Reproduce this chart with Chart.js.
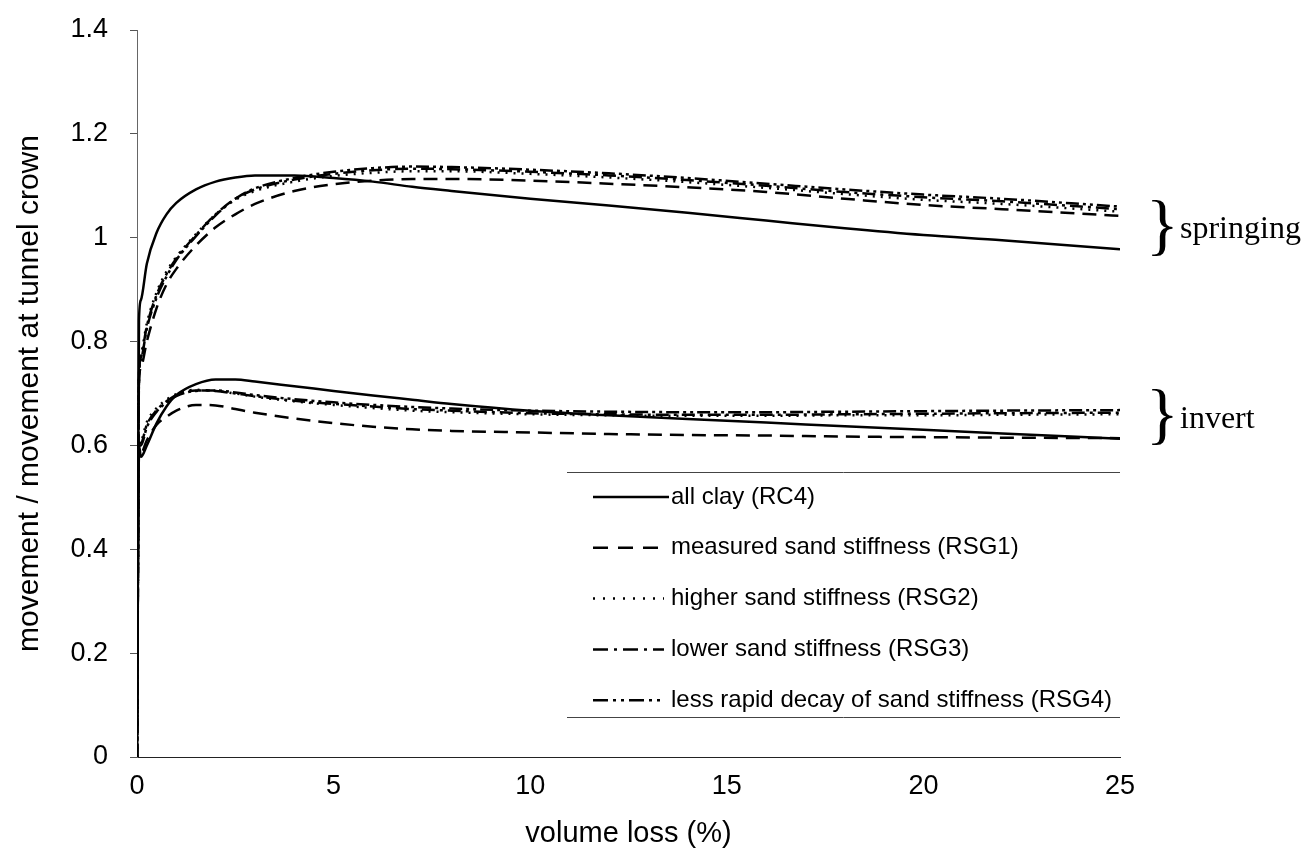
<!DOCTYPE html>
<html>
<head>
<meta charset="utf-8">
<script src="https://cdn.jsdelivr.net/npm/chart.js@4"></script>
<style>
  html, body { margin: 0; padding: 0; background: #fff; }
  #wrap { width: 1311px; height: 854px; }
</style>
</head>
<body>
<div id="wrap"><canvas id="chart" width="1311" height="854"></canvas></div>
<script>
// volume loss (%) sample points, shared by every curve
const volumeLoss = [0, 0.05, 0.1, 0.25, 0.5, 0.75, 1, 1.5, 2, 2.5, 3, 4, 5, 6, 7, 8, 10, 12, 14, 16, 18, 20, 22, 25];

// springing
const springRC4  = [0, 0.84, 0.88, 0.95, 1.01, 1.045, 1.067, 1.093, 1.108, 1.116, 1.12, 1.12, 1.115, 1.108, 1.098, 1.09, 1.075, 1.062, 1.048, 1.033, 1.018, 1.005, 0.995, 0.978];
const springRSG1 = [0, 0.72, 0.75, 0.80, 0.865, 0.91, 0.94, 0.985, 1.02, 1.045, 1.065, 1.09, 1.103, 1.11, 1.113, 1.113, 1.11, 1.104, 1.097, 1.088, 1.075, 1.063, 1.055, 1.042];
const springRSG2 = [0, 0.73, 0.775, 0.835, 0.895, 0.935, 0.963, 1.007, 1.045, 1.073, 1.09, 1.108, 1.119, 1.125, 1.128, 1.128, 1.123, 1.116, 1.107, 1.096, 1.084, 1.073, 1.065, 1.05];
const springRSG3 = [0, 0.73, 0.77, 0.83, 0.89, 0.93, 0.96, 1.005, 1.045, 1.075, 1.093, 1.112, 1.123, 1.13, 1.133, 1.132, 1.127, 1.12, 1.111, 1.1, 1.088, 1.078, 1.07, 1.055];
const springRSG4 = [0, 0.73, 0.765, 0.825, 0.885, 0.925, 0.957, 1.003, 1.043, 1.075, 1.095, 1.115, 1.127, 1.134, 1.137, 1.136, 1.131, 1.124, 1.115, 1.104, 1.093, 1.083, 1.075, 1.06];

// invert
const invertRC4  = [0, 0.60, 0.578, 0.60, 0.643, 0.675, 0.697, 0.718, 0.727, 0.727, 0.723, 0.714, 0.705, 0.696, 0.688, 0.68, 0.667, 0.658, 0.651, 0.644, 0.637, 0.63, 0.623, 0.613];
const invertRSG1 = [0, 0.58, 0.585, 0.61, 0.64, 0.655, 0.667, 0.678, 0.677, 0.67, 0.663, 0.652, 0.643, 0.636, 0.631, 0.628, 0.625, 0.622, 0.62, 0.619, 0.617, 0.616, 0.615, 0.614];
const invertRSG2 = [0, 0.60, 0.61, 0.645, 0.672, 0.688, 0.699, 0.707, 0.705, 0.70, 0.694, 0.685, 0.678, 0.672, 0.667, 0.664, 0.66, 0.658, 0.657, 0.657, 0.658, 0.658, 0.659, 0.66];
const invertRSG3 = [0, 0.60, 0.605, 0.64, 0.668, 0.685, 0.697, 0.706, 0.705, 0.70, 0.695, 0.686, 0.68, 0.675, 0.67, 0.667, 0.662, 0.66, 0.659, 0.659, 0.66, 0.661, 0.662, 0.663];
const invertRSG4 = [0, 0.60, 0.60, 0.635, 0.665, 0.683, 0.695, 0.705, 0.706, 0.702, 0.697, 0.689, 0.683, 0.678, 0.674, 0.671, 0.667, 0.665, 0.664, 0.664, 0.665, 0.666, 0.667, 0.668];

const seriesLabels = [
    'all clay (RC4)',
    'measured sand stiffness (RSG1)',
    'higher sand stiffness (RSG2)',
    'lower sand stiffness (RSG3)',
    'less rapid decay of sand stiffness (RSG4)'
];
const dashes = [[], [14, 8], [2, 6], [13, 5, 3, 5], [13, 4, 3, 4, 3, 4]];
const legendDashes = [[], [15, 10], [2, 8], [15, 6, 3, 6], [15, 5, 3, 5, 3, 5]];
const braceLabels = ['springing', 'invert'];
const braceAt = [1.017, 0.652];

const FONT = "'Liberation Sans', Arial, sans-serif";
const SERIF = "'Liberation Serif', 'Times New Roman', serif";

function pts(ys) {
    return volumeLoss.map((x, i) => ({ x: x, y: ys[i] }));
}

const springing = [springRC4, springRSG1, springRSG2, springRSG3, springRSG4];
const invert = [invertRC4, invertRSG1, invertRSG2, invertRSG3, invertRSG4];

let datasets = [];
springing.forEach((ys, i) => {
    datasets.push({ label: seriesLabels[i], data: pts(ys), borderDash: dashes[i] });
});
invert.forEach((ys, i) => {
    datasets.push({ label: seriesLabels[i], data: pts(ys), borderDash: dashes[i] });
});
datasets = datasets.map(d => Object.assign(d, {
    borderColor: '#000',
    borderWidth: 2.5,
    pointRadius: 0,
    fill: false,
    cubicInterpolationMode: 'monotone'
}));

// legend box + braces, drawn on the canvas
const extras = {
    id: 'extras',
    afterDraw(chart) {
        const ctx = chart.ctx;
        const y = chart.scales.y;
        ctx.save();

        // legend frame (top and bottom rules only)
        const box = { left: 567, right: 1120, top: 472, bottom: 717 };
        ctx.strokeStyle = '#444';
        ctx.lineWidth = 1;
        ctx.setLineDash([]);
        ctx.beginPath();
        ctx.moveTo(box.left, box.top + 0.5);
        ctx.lineTo(box.right, box.top + 0.5);
        ctx.moveTo(box.left, box.bottom + 0.5);
        ctx.lineTo(box.right, box.bottom + 0.5);
        ctx.stroke();

        ctx.font = '24px ' + FONT;
        ctx.fillStyle = '#000';
        ctx.textBaseline = 'middle';
        seriesLabels.forEach((lab, i) => {
            const ry = 497 + i * 50.8;
            ctx.beginPath();
            ctx.setLineDash(legendDashes[i]);
            ctx.lineWidth = 2.5;
            ctx.strokeStyle = '#000';
            ctx.moveTo(593, ry);
            ctx.lineTo(i === 0 ? 669 : 664, ry);
            ctx.stroke();
            ctx.fillText(lab, 671, ry);
        });

        // braces
        ctx.setLineDash([]);
        braceLabels.forEach((lab, i) => {
            const py = y.getPixelForValue(braceAt[i]);
            ctx.font = '68px ' + SERIF;
            ctx.textBaseline = 'middle';
            ctx.fillText('}', 1146, py);
            ctx.font = '32px ' + SERIF;
            ctx.fillText(lab, 1180, py + 1);
        });
        ctx.restore();
    }
};

new Chart(document.getElementById('chart'), {
    type: 'line',
    data: { datasets: datasets },
    options: {
        responsive: false,
        animation: false,
        layout: { padding: { left: 0, right: 191, top: 30, bottom: 0 } },
        plugins: {
            legend: { display: false },
            tooltip: { enabled: false }
        },
        scales: {
            x: {
                type: 'linear',
                min: 0,
                max: 25,
                afterFit: s => { s.height = 97; s.paddingLeft = 0; s.paddingRight = 0; },
                border: { color: '#222', width: 1 },
                grid: { display: false, drawTicks: false },
                ticks: { stepSize: 5, color: '#000', font: { family: FONT, size: 27 }, padding: 13 },
                title: {
                    display: true,
                    text: 'volume loss (%)',
                    color: '#000',
                    font: { family: FONT, size: 29 },
                    padding: { top: 0, bottom: 3 }
                }
            },
            y: {
                min: 0,
                max: 1.4,
                afterFit: s => { s.width = 137; s.paddingTop = 0; s.paddingBottom = 0; },
                border: { color: '#666', width: 1 },
                grid: { drawOnChartArea: false, drawTicks: true, tickLength: 7, color: '#555' },
                ticks: {
                    stepSize: 0.2,
                    color: '#000',
                    font: { family: FONT, size: 27 },
                    padding: 22,
                    callback: v => String(Math.round(v * 10) / 10)
                },
                title: {
                    display: true,
                    text: 'movement / movement at tunnel crown',
                    color: '#000',
                    font: { family: FONT, size: 30 },
                    padding: { top: 12, bottom: 0 }
                }
            }
        }
    },
    plugins: [extras]
});
</script>
</body>
</html>
